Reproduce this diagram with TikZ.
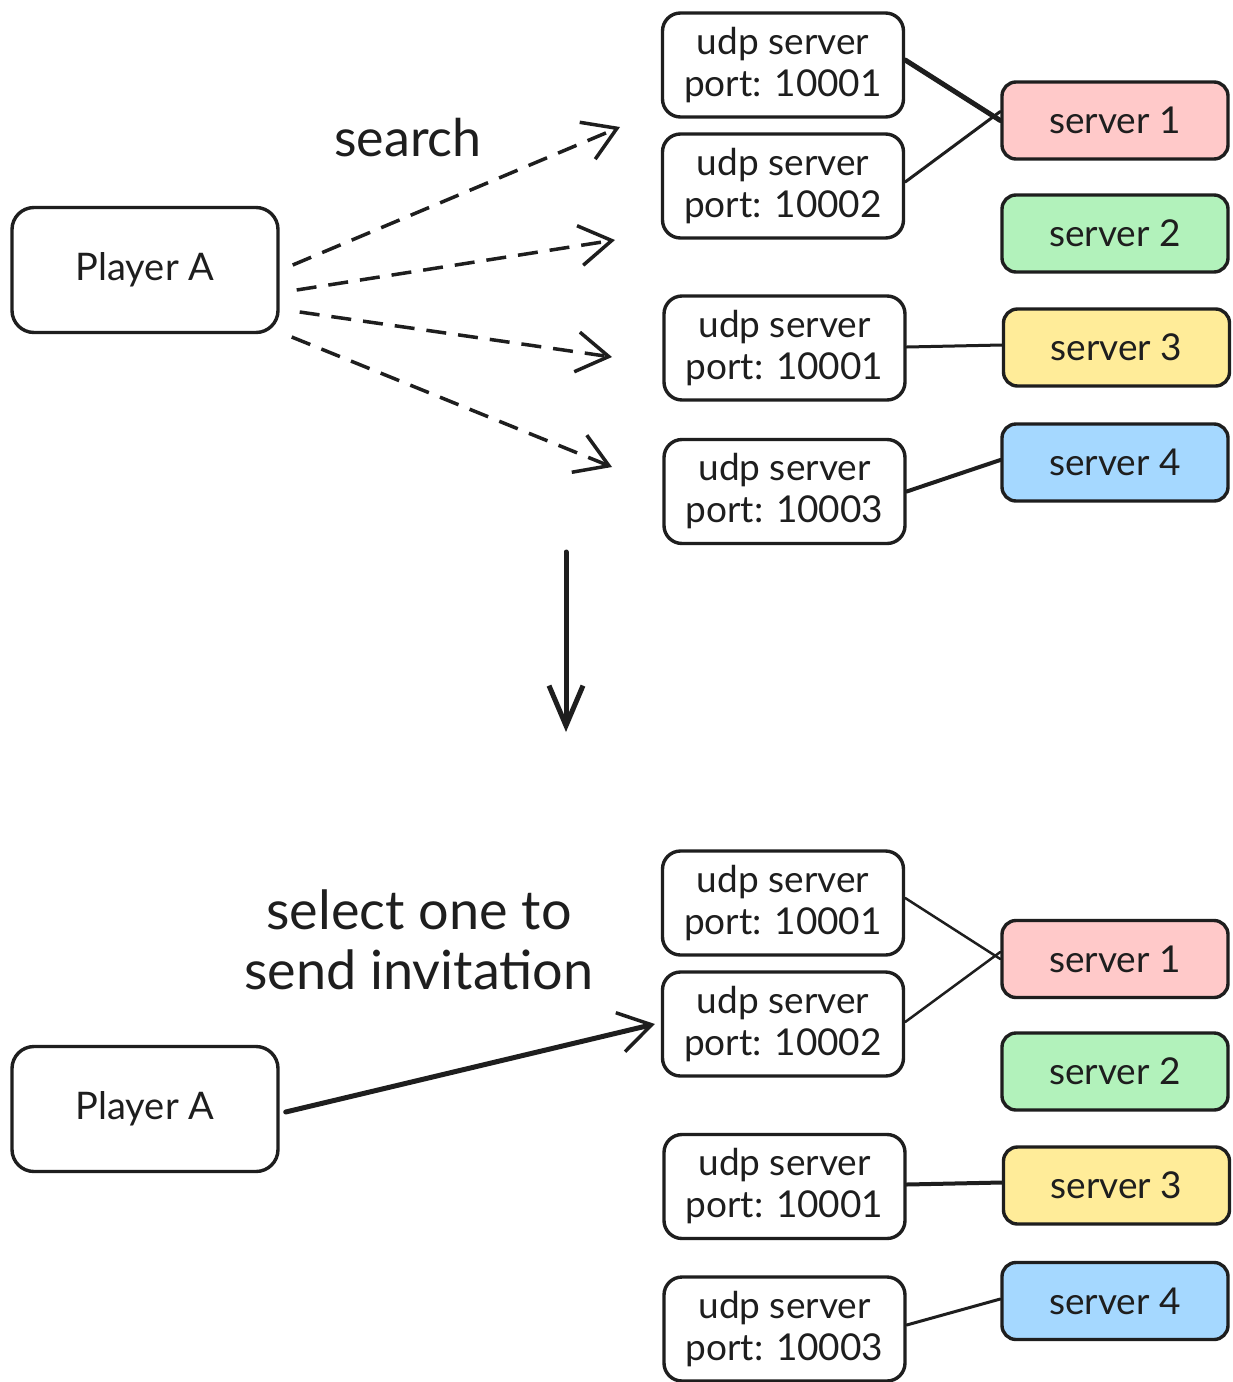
\documentclass[tikz,border=0pt]{standalone}
\usepackage{fontspec}
\setmainfont{Lato}
\usetikzlibrary{arrows.meta}
\definecolor{ink}{HTML}{1E1E1E}
\definecolor{pinkf}{HTML}{FFC9C9}
\definecolor{greenf}{HTML}{B2F2BB}
\definecolor{yellowf}{HTML}{FFEC99}
\definecolor{bluef}{HTML}{A5D8FF}
\tikzset{
  box/.style={draw=ink, line width=3.4pt, rounded corners=18pt, fill=white, inner sep=0pt, align=center, text=ink, font=\fontsize{37}{42}\selectfont},
  playerbox/.style={box, minimum width=266pt, minimum height=125pt, rounded corners=22pt, font=\fontsize{38}{42}\selectfont},
  udpbox/.style={box, minimum width=241pt, minimum height=104pt},
  srvbox/.style={box, minimum width=226pt, minimum height=77pt, rounded corners=14pt},
  label/.style={text=ink, inner sep=0pt, align=center},
  link/.style={draw=ink, line width=3pt, line cap=round},
  barb/.style={-{Straight Barb[length=32pt, width=40pt, line width=3.5pt]}},
  dasharrow/.style={draw=ink, line width=3.5pt, dash pattern=on 20pt off 12pt, barb},
}
\begin{document}
\begin{tikzpicture}[x=1pt, y=-1pt]
\useasboundingbox (0,0) rectangle (1233,1382);
\fill[white] (0,0) rectangle (1233,1382);

% ---------- top half ----------
\node[playerbox] (pA) at (145,270) {Player A};
\node[udpbox] (u1) at (783,65) {udp server\\port: 10001};
\node[udpbox] (u2) at (783,186) {udp server\\port: 10002};
\node[udpbox] (u3) at (784.5,348) {udp server\\port: 10001};
\node[udpbox] (u4) at (784.5,491.5) {udp server\\port: 10003};
\node[srvbox, fill=pinkf] (s1) at (1115,120.5) {server 1};
\node[srvbox, fill=greenf] (s2) at (1115,233.5) {server 2};
\node[srvbox, fill=yellowf] (s3) at (1116.5,347.5) {server 3};
\node[srvbox, fill=bluef] (s4) at (1115,462.5) {server 4};

\node[label, font=\fontsize{52}{60}\selectfont] (search) at (408,138) {search};

\coordinate (a1) at (620,127);
\coordinate (a2) at (615,240);
\coordinate (a3) at (612,357);
\coordinate (a4) at (612,467);
\draw[dasharrow] ([shift={(13,-5)}]pA.east) -- (a1);
\draw[dasharrow] ([shift={(17,20)}]pA.east) -- (a2);
\draw[dasharrow] ([shift={(20,42)}]pA.east) -- (a3);
\draw[dasharrow] ([shift={(12,67)}]pA.east) -- (a4);

\draw[link, line width=5pt] ([yshift=5pt]u1.east) -- ([yshift=0pt]s1.west);
\draw[link] ([yshift=4pt]u2.east) -- ([yshift=9pt]s1.west);
\draw[link] ([yshift=1pt]u3.east) -- ([yshift=2.5pt]s3.west);
\draw[link, line width=4pt] (u4.east) -- ([yshift=2.5pt]s4.west);

% ---------- transition arrow ----------
\coordinate (d1) at (566,552);
\coordinate (d2) at (566,732);
\draw[draw=ink, line width=5pt, line cap=round, -{Straight Barb[length=40pt, width=34pt, line width=5pt]}] (d1) -- (d2);

% ---------- bottom half ----------
\node[playerbox] (pB) at (145,1109) {Player A};
\node[udpbox] (v1) at (783,903) {udp server\\port: 10001};
\node[udpbox] (v2) at (783,1024) {udp server\\port: 10002};
\node[udpbox] (v3) at (784.5,1186.5) {udp server\\port: 10001};
\node[udpbox] (v4) at (784.5,1329) {udp server\\port: 10003};
\node[srvbox, fill=pinkf] (t1) at (1115,959) {server 1};
\node[srvbox, fill=greenf] (t2) at (1115,1071.5) {server 2};
\node[srvbox, fill=yellowf] (t3) at (1116.5,1185.5) {server 3};
\node[srvbox, fill=bluef] (t4) at (1115,1301) {server 4};

\node[label, font=\fontsize{54}{60}\selectfont] (sel) at (419,940) {select one to\\send invitation};

\draw[draw=ink, line width=5pt, line cap=round, barb] ([shift={(6,3)}]pB.east) -- ([xshift=-6pt]v2.west);

\draw[link, line width=2.5pt] ([yshift=5pt]v1.east) -- ([yshift=0pt]t1.west);
\draw[link, line width=2.5pt] ([yshift=2pt]v2.east) -- ([yshift=7pt]t1.west);
\draw[link, line width=4pt] ([yshift=2pt]v3.east) -- ([yshift=3pt]t3.west);
\draw[link, line width=3pt] ([yshift=4pt]v4.east) -- ([yshift=2pt]t4.west);
\end{tikzpicture}
\end{document}
